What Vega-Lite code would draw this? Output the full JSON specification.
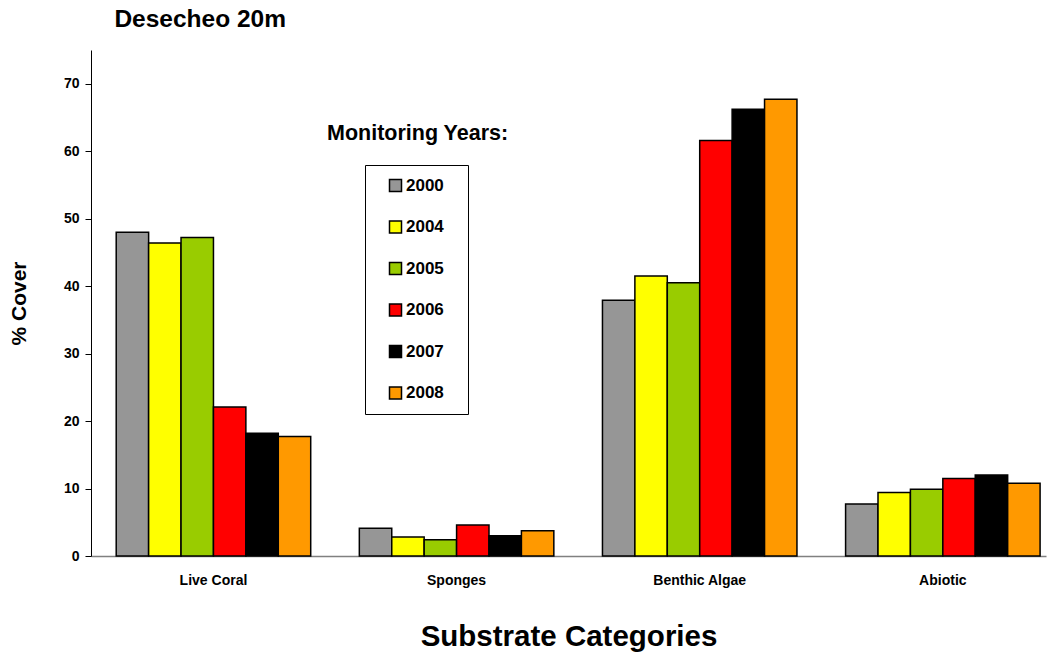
{
  "$schema": "https://vega.github.io/schema/vega-lite/v6.json",
  "width": 955,
  "height": 506,
  "autosize": {"type": "none"},
  "padding": {"left": 91, "top": 50, "right": 11, "bottom": 96},
  "background": "white",
  "title": {
    "text": "Desecheo 20m",
    "anchor": "start",
    "dx": 106,
    "offset": 18,
    "font": "Liberation Sans",
    "fontSize": 24.5,
    "fontWeight": "bold",
    "color": "black"
  },
  "config": {
    "view": {"stroke": null},
    "font": "Liberation Sans"
  },
  "datasets": {
    "cover": [
      {"category": "Live Coral", "year": "2000", "cover": 48.0},
      {"category": "Live Coral", "year": "2004", "cover": 46.4},
      {"category": "Live Coral", "year": "2005", "cover": 47.2},
      {"category": "Live Coral", "year": "2006", "cover": 22.1},
      {"category": "Live Coral", "year": "2007", "cover": 18.2},
      {"category": "Live Coral", "year": "2008", "cover": 17.7},
      {"category": "Sponges", "year": "2000", "cover": 4.1},
      {"category": "Sponges", "year": "2004", "cover": 2.8},
      {"category": "Sponges", "year": "2005", "cover": 2.4},
      {"category": "Sponges", "year": "2006", "cover": 4.6},
      {"category": "Sponges", "year": "2007", "cover": 3.0},
      {"category": "Sponges", "year": "2008", "cover": 3.75},
      {"category": "Benthic Algae", "year": "2000", "cover": 37.9},
      {"category": "Benthic Algae", "year": "2004", "cover": 41.5},
      {"category": "Benthic Algae", "year": "2005", "cover": 40.5},
      {"category": "Benthic Algae", "year": "2006", "cover": 61.6},
      {"category": "Benthic Algae", "year": "2007", "cover": 66.2},
      {"category": "Benthic Algae", "year": "2008", "cover": 67.7},
      {"category": "Abiotic", "year": "2000", "cover": 7.7},
      {"category": "Abiotic", "year": "2004", "cover": 9.4},
      {"category": "Abiotic", "year": "2005", "cover": 9.9},
      {"category": "Abiotic", "year": "2006", "cover": 11.5},
      {"category": "Abiotic", "year": "2007", "cover": 12.0},
      {"category": "Abiotic", "year": "2008", "cover": 10.8}
    ],
    "note": [{"label": "Monitoring Years:"}]
  },
  "layer": [
    {
      "data": {"name": "cover"},
      "mark": {"type": "bar", "stroke": "black", "strokeWidth": 1.5},
      "encoding": {
        "x": {
          "field": "category",
          "type": "nominal",
          "sort": ["Live Coral", "Sponges", "Benthic Algae", "Abiotic"],
          "scale": {"paddingInner": 0.2, "paddingOuter": 0.064, "align": 0.81},
          "axis": {
            "title": "Substrate Categories",
            "titleFont": "Liberation Sans",
            "titleFontSize": 29.5,
            "titleFontWeight": "bold",
            "titleColor": "black",
            "titlePadding": 35,
            "labelFont": "Liberation Sans",
            "labelFontSize": 14,
            "labelFontWeight": "bold",
            "labelColor": "black",
            "labelAngle": 0,
            "labelPadding": 17,
            "ticks": false,
            "domainColor": "#808080",
            "domainWidth": 1.5
          }
        },
        "xOffset": {
          "field": "year",
          "type": "nominal",
          "scale": {"paddingInner": 0, "paddingOuter": 0}
        },
        "y": {
          "field": "cover",
          "type": "quantitative",
          "scale": {"domain": [0, 75], "nice": false},
          "axis": {
            "values": [0, 10, 20, 30, 40, 50, 60, 70],
            "title": "% Cover",
            "titleFont": "Liberation Sans",
            "titleFontSize": 21,
            "titleFontWeight": "bold",
            "titleColor": "black",
            "titlePadding": 34,
            "labelFont": "Liberation Sans",
            "labelFontSize": 14,
            "labelFontWeight": "bold",
            "labelColor": "black",
            "labelPadding": 6,
            "tickSize": 6,
            "tickColor": "black",
            "domainColor": "black",
            "domainWidth": 1,
            "grid": false
          }
        },
        "fill": {
          "field": "year",
          "type": "nominal",
          "scale": {
            "domain": ["2000", "2004", "2005", "2006", "2007", "2008"],
            "range": ["#969696", "#FFFF00", "#99CC00", "#FF0000", "#000000", "#FF9900"]
          },
          "legend": {
            "title": null,
            "orient": "none",
            "legendX": 274,
            "legendY": 115,
            "strokeColor": "black",
            "fillColor": "white",
            "padding": 12,
            "symbolOffset": 10,
            "symbolType": "square",
            "symbolSize": 144,
            "symbolStrokeColor": "black",
            "symbolStrokeWidth": 1.5,
            "labelFont": "Liberation Sans",
            "labelFontSize": 17,
            "labelFontWeight": "bold",
            "labelColor": "black",
            "labelOffset": 2,
            "labelExpr": "datum.label + '\u2800'",
            "rowPadding": 22.5
          }
        }
      }
    },
    {
      "data": {"name": "note"},
      "mark": {
        "type": "text",
        "font": "Liberation Sans",
        "fontSize": 21.5,
        "fontWeight": "bold",
        "color": "black",
        "dx": -39,
        "baseline": "middle"
      },
      "encoding": {
        "x": {"datum": "Sponges", "type": "nominal"},
        "y": {"datum": 62.5, "type": "quantitative"},
        "text": {"field": "label"}
      }
    }
  ]
}
